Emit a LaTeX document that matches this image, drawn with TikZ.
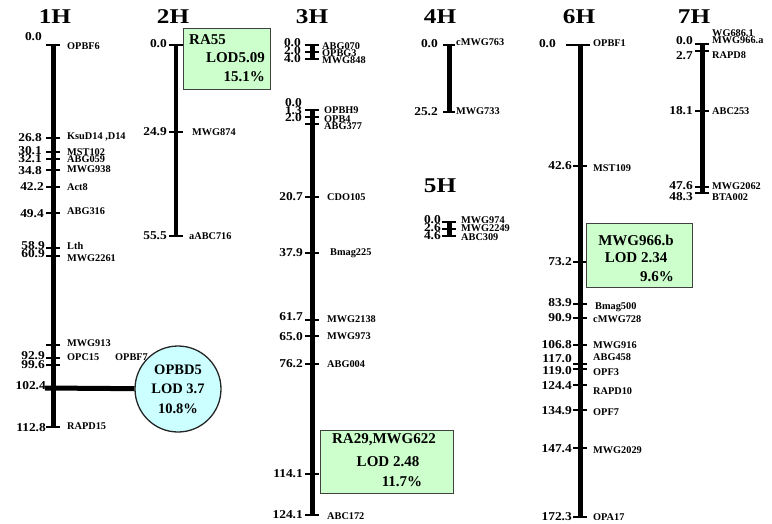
\documentclass[tikz,border=0pt]{standalone}
\usepackage{fontspec}
\setmainfont{Liberation Serif}
\newfontfamily\widefam[FakeStretch=1.12]{Liberation Serif}
\newfontfamily\ttlfam[FakeStretch=1.2]{Liberation Serif}
\usetikzlibrary{calc}
\definecolor{qgreen}{HTML}{CCFFCC}
\definecolor{qcyan}{HTML}{CCFFFF}
\newcounter{lblc}
\tikzset{
  bar/.style={line width=5pt},
  thinbar/.style={line width=3.2pt},
  tickln/.style={line width=2.6pt},
  numlbl/.style={anchor=east,inner sep=0pt,font=\widefam\bfseries\fontsize{12}{12}\selectfont},
  mklbl/.style={anchor=west,inner sep=0pt,font=\bfseries\fontsize{10.3}{10}\selectfont},
  ttl/.style={inner sep=0pt,font=\ttlfam\bfseries\fontsize{21}{22}\selectfont},
  qbox/.style={draw=black!75,line width=1pt,fill=qgreen},
  qtxt/.style={inner sep=0pt,font=\bfseries\fontsize{15}{15}\selectfont},
}
\newcommand\tk[3][7]{\draw[tickln] (#2-#1,#3) -- (#2+#1,#3);}
\newcommand\nm[3]{\stepcounter{lblc}\node[numlbl] (n\arabic{lblc}) at (#1,#2) {#3};}
\newcommand\mk[3]{\stepcounter{lblc}\node[mklbl] (m\arabic{lblc}) at (#1,#2) {#3};}
\begin{document}
\begin{tikzpicture}[x=1pt,y=-1pt]
\useasboundingbox (0,0) rectangle (772,523);
% titles
\node[ttl] (t1) at (55,17) {1H};
\node[ttl] (t2) at (173,17) {2H};
\node[ttl] (t3) at (312,17) {3H};
\node[ttl] (t4) at (440,17) {4H};
\node[ttl] (t5) at (440,186) {5H};
\node[ttl] (t6) at (579,17) {6H};
\node[ttl] (t7) at (694,17) {7H};

% ---------- 1H ----------
\coordinate (h1t) at (53,45);
\coordinate (h1b) at (53,427);
\draw[bar] (h1t) -- (h1b);
\foreach \y in {45,138,152,159,170,187,213,248,256,345,358,365,427} {\tk{53}{\y}}
\nm{42}{37}{0.0}
\nm{42}{138}{26.8}
\nm{42}{151}{30.1}
\nm{42}{159}{32.1}
\nm{42}{171}{34.8}
\nm{44}{187}{42.2}
\nm{44}{214}{49.4}
\nm{45}{246}{58.9}
\nm{45}{254}{60.9}
\nm{45}{356}{92.9}
\nm{45}{365}{99.6}
\nm{46}{386}{102.4}
\nm{46}{428}{112.8}
\mk{67}{46}{OPBF6}
\mk{67}{137}{KsuD14 ,D14}
\mk{67}{152}{MST102}
\mk{67}{159}{ABG059}
\mk{67}{169}{MWG938}
\mk{67}{187}{Act8}
\mk{67}{211}{ABG316}
\mk{67}{246}{Lth}
\mk{67}{258}{MWG2261}
\mk{67}{343}{MWG913}
\mk{67}{357}{OPC15}
\mk{115}{357}{OPBF7}
\mk{67}{426}{RAPD15}
\coordinate (h1q) at (45,388);
\node[circle,draw=black!85,line width=1.3pt,fill=qcyan,minimum size=86pt,inner sep=0pt,align=center,
      font=\bfseries\fontsize{14.5}{19.5}\selectfont] (q1) at (178,389) {OPBD5\\LOD 3.7\\10.8\%};
\draw[bar] (h1q) -- (q1);

% ---------- 2H ----------
\coordinate (h2t) at (176,45);
\coordinate (h2b) at (176,236);
\draw[thinbar] (h2t) -- (h2b);
\foreach \y in {45,132,236} {\tk{176}{\y}}
\nm{167}{44}{0.0}
\nm{167}{132}{24.9}
\nm{167}{236}{55.5}
\mk{192}{132}{MWG874}
\mk{189}{236}{aABC716}
\node[qbox,minimum width=87pt,minimum height=61pt,inner sep=0pt] (q2) at (226.5,58.5) {};
\node[qtxt,anchor=west] (q2a) at (189,40) {RA55};
\node[qtxt,anchor=east] (q2b) at (265,58) {LOD5.09};
\node[qtxt,anchor=east] (q2c) at (265,77) {15.1\%};

% ---------- 3H (upper) ----------
\coordinate (h3at) at (312,45);
\coordinate (h3ab) at (312,59);
\draw[bar] (h3at) -- (h3ab);
\foreach \y in {45,52,59} {\tk{312}{\y}}
\nm{301}{43}{0.0}
\nm{301}{51}{2.0}
\nm{301}{59}{4.0}
\mk{322}{46}{ABG070}
\mk{322}{53}{OPBG3}
\mk{322}{60}{MWG848}

% ---------- 3H (main) ----------
\coordinate (h3t) at (312,110);
\coordinate (h3b) at (312,515);
\draw[bar] (h3t) -- (h3b);
\foreach \y in {110,117,124,197,253,320,336,364,474,515} {\tk{312}{\y}}
\nm{302}{103}{0.0}
\nm{302}{111}{1.3}
\nm{302}{118}{2.0}
\nm{303}{197}{20.7}
\nm{303}{253}{37.9}
\nm{303}{317}{61.7}
\nm{303}{337}{65.0}
\nm{303}{364}{76.2}
\nm{303}{474}{114.1}
\nm{303}{515}{124.1}
\mk{324}{110}{OPBH9}
\mk{324}{119}{OPB4}
\mk{324}{126}{ABG377}
\mk{327}{197}{CDO105}
\mk{330}{253}{Bmag225}
\mk{327}{319}{MWG2138}
\mk{327}{336}{MWG973}
\mk{327}{364}{ABG004}
\mk{327}{516}{ABC172}
\node[qbox,minimum width=133pt,minimum height=63pt,inner sep=0pt] (q3) at (386.5,461.5) {};
\node[qtxt] (q3a) at (384,440) {RA29,MWG622};
\node[qtxt] (q3b) at (388,462) {LOD 2.48};
\node[qtxt] (q3c) at (402,482) {11.7\%};

% ---------- 4H ----------
\coordinate (h4t) at (449,45);
\coordinate (h4b) at (449,112);
\draw[bar] (h4t) -- (h4b);
\foreach \y in {45,112} {\tk[6]{449}{\y}}
\nm{438}{44}{0.0}
\nm{438}{112}{25.2}
\mk{456}{42}{cMWG763}
\mk{456}{111}{MWG733}

% ---------- 5H ----------
\coordinate (h5t) at (449,222);
\coordinate (h5b) at (449,236);
\draw[bar] (h5t) -- (h5b);
\foreach \y in {222,229,236} {\tk{449}{\y}}
\nm{441}{220}{0.0}
\nm{441}{228}{2.6}
\nm{441}{236}{4.6}
\mk{461}{220}{MWG974}
\mk{461}{228}{MWG2249}
\mk{461}{237}{ABC309}

% ---------- 6H ----------
\coordinate (h6t) at (580,45);
\coordinate (h6b) at (580,517);
\draw[bar] (h6t) -- (h6b);
\tk[12]{578}{45}
\foreach \y in {166,262,304,318,345,364,369,385,410,448,517} {\tk{580}{\y}}
\nm{556}{44}{0.0}
\nm{572}{166}{42.6}
\nm{572}{262}{73.2}
\nm{572}{303}{83.9}
\nm{572}{318}{90.9}
\nm{572}{345}{106.8}
\nm{572}{359}{117.0}
\nm{572}{371}{119.0}
\nm{572}{386}{124.4}
\nm{572}{411}{134.9}
\nm{572}{449}{147.4}
\nm{572}{517}{172.3}
\mk{593}{43}{OPBF1}
\mk{593}{168}{MST109}
\mk{595}{307}{Bmag500}
\mk{593}{319}{cMWG728}
\mk{593}{345}{MWG916}
\mk{593}{357}{ABG458}
\mk{593}{372}{OPF3}
\mk{593}{391}{RAPD10}
\mk{593}{412}{OPF7}
\mk{593}{450}{MWG2029}
\mk{593}{517}{OPA17}
\node[qbox,minimum width=106pt,minimum height=64pt,inner sep=0pt] (q6) at (639,255) {};
\node[qtxt] (q6a) at (636,240) {MWG966.b};
\node[qtxt] (q6b) at (636,258) {LOD 2.34};
\node[qtxt] (q6c) at (657,277) {9.6\%};

% ---------- 7H ----------
\coordinate (h7t) at (702,44);
\coordinate (h7b) at (702,193);
\draw[bar] (h7t) -- (h7b);
\foreach \y in {44,51,111,187,193} {\tk{702}{\y}}
\nm{693}{41}{0.0}
\nm{693}{56}{2.7}
\nm{693}{111}{18.1}
\nm{693}{186}{47.6}
\nm{693}{197}{48.3}
\mk{712}{33}{WG686.1}
\mk{712}{40}{MWG966.a}
\mk{712}{55}{RAPD8}
\mk{712}{111}{ABC253}
\mk{712}{186}{MWG2062}
\mk{712}{197}{BTA002}
\end{tikzpicture}
\end{document}
